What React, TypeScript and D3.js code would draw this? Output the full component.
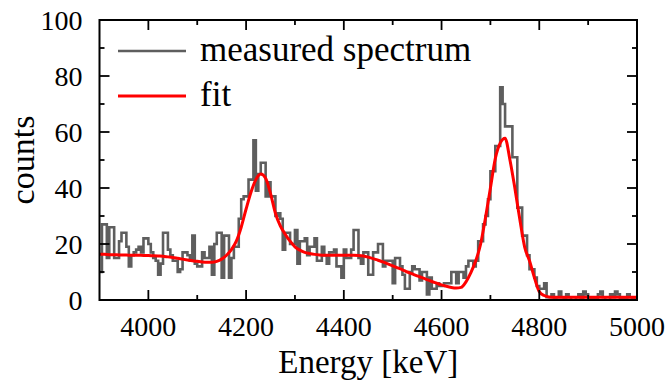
import { useEffect, useRef } from 'react';
import * as d3 from 'd3';

// histogram bins: 5 keV wide, starting at 3900 keV
const BIN_START = 3900;
const BIN_WIDTH = 5;
const counts: number[] = [
  10, 27, 27, 15, 26, 26, 15, 15, 21, 24, 24, 19, 12, 16, 17, 18, 19, 17, 22, 22, // 3900
  20, 17, 15, 14, 9, 13, 24, 24, 18, 16, 14, 14, 10, 11, 17, 17, 16, 14, 23, 13, // 4000
  12, 12, 17, 15, 15, 19, 9, 20, 24, 24, 8, 23, 23, 8, 15, 19, 19, 29, 36, 37, // 4100
  37, 43, 43, 57, 39, 45, 49, 49, 37, 42, 37, 37, 30, 31, 29, 18, 24, 24, 20, 20, // 4200
  25, 13, 21, 21, 22, 16, 19, 19, 22, 14, 14, 19, 16, 13, 17, 17, 18, 12, 12, 8, // 4300
  18, 15, 15, 18, 25, 25, 15, 13, 17, 17, 9, 9, 17, 17, 20, 20, 12, 14, 14, 14, // 4400
  6, 15, 15, 12, 9, 4, 4, 10, 12, 11, 11, 7, 10, 10, 2, 8, 4, 4, 6, 5, // 4500
  5, 6, 6, 6, 10, 10, 6, 10, 10, 8, 12, 14, 14, 12, 14, 21, 21, 27, 30, 36, // 4600
  46, 46, 55, 55, 76, 70, 62, 62, 62, 51, 51, 33, 33, 23, 23, 16, 11, 11, 8, 5, // 4700
  4, 4, 6, 1, 1, 2, 0, 1, 3, 1, 0, 2, 1, 0, 0, 1, 2, 0, 3, 2, // 4800
  1, 0, 1, 0, 2, 3, 1, 0, 0, 2, 1, 3, 2, 0, 1, 0, 2, 1, 0, 1, // 4900
];

// fit curve sampled every 10 keV from 3900 to 5000
const FIT_START = 3900;
const FIT_STEP = 10;
const fitValues: number[] = [
  16.3, 16.3, 16.2, 16.2, 16.1, 16.1, 16.0, 16.0, 16.0, 15.9,
  15.9, 15.8, 15.7, 15.6, 15.4, 15.2, 14.9, 14.6, 14.3, 14.0,
  13.8, 13.6, 13.5, 13.5, 13.8, 14.6, 16.0, 18.0, 21.0, 26.0,
  32.5, 38.5, 43.0, 45.0, 43.5, 38.0, 31.0, 26.5, 23.5, 21.0,
  19.0, 17.8, 17.0, 16.6, 16.3, 16.1, 16.0, 16.0, 16.0, 16.0,
  16.0, 16.0, 16.0, 15.9, 15.7, 15.3, 14.8, 14.2, 13.6, 12.9,
  12.2, 11.5, 10.8, 10.0, 9.3, 8.6, 8.0, 7.3, 6.6, 6.0,
  5.4, 4.9, 4.5, 4.3, 4.5, 6.5, 9.8, 14.0, 20.0, 29.5,
  40.0, 50.5, 56.0, 57.8, 50.0, 40.0, 29.0, 19.0, 14.0, 8.0,
  3.0, 1.6, 1.1, 1.0, 1.0, 1.0, 1.0, 1.0, 1.0, 1.0,
  1.0, 1.0, 1.0, 1.0, 1.0, 1.0, 1.0, 1.0, 1.0, 1.0, 1.0,
];

const xTickLabels = [4000, 4200, 4400, 4600, 4800, 5000];
const xMinorTicks = [4100, 4300, 4500, 4700, 4900];
const yTickLabels = [0, 20, 40, 60, 80, 100];
const yMinorTicks = [10, 30, 50, 70, 90];

const legendItems = [
  { label: 'measured spectrum', color: '#5e5e5e', width: 2.6 },
  { label: 'fit', color: '#ff0000', width: 3 },
];

const WIDTH = 665;
const HEIGHT = 384;
const FONT = '"Liberation Serif", "Times New Roman", serif';

export default function App() {
  const ref = useRef<SVGSVGElement>(null);

  useEffect(() => {
    if (!ref.current) return;
    const margin = { top: 20, right: 28, bottom: 84, left: 99.5 };
    const svg = d3.select(ref.current);
    svg.selectAll('*').remove();

    const x = d3.scaleLinear().domain([3900, 5000]).range([margin.left, WIDTH - margin.right]);
    const y = d3.scaleLinear().domain([0, 100]).range([HEIGHT - margin.bottom, margin.top]);
    const [x0, x1] = x.range();
    const [y0, y1] = y.range();

    svg.append('defs')
      .append('clipPath')
      .attr('id', 'plot-clip')
      .append('rect')
      .attr('x', x0)
      .attr('y', y1)
      .attr('width', x1 - x0)
      .attr('height', y0 - y1);

    // measured spectrum, drawn as steps
    const histPoints: [number, number][] = counts.map((c, i) => [BIN_START + i * BIN_WIDTH, c]);
    histPoints.push([BIN_START + counts.length * BIN_WIDTH, counts[counts.length - 1]]);
    const stepLine = d3.line<[number, number]>()
      .x(d => x(d[0]))
      .y(d => y(d[1]))
      .curve(d3.curveStepAfter);

    svg.append('path')
      .datum(histPoints)
      .attr('clip-path', 'url(#plot-clip)')
      .attr('fill', 'none')
      .attr('stroke', legendItems[0].color)
      .attr('stroke-width', legendItems[0].width)
      .attr('d', stepLine);

    // fit
    const fitPoints: [number, number][] = fitValues.map((v, i) => [FIT_START + i * FIT_STEP, v]);
    const fitLine = d3.line<[number, number]>()
      .x(d => x(d[0]))
      .y(d => y(d[1]))
      .curve(d3.curveMonotoneX);

    svg.append('path')
      .datum(fitPoints)
      .attr('clip-path', 'url(#plot-clip)')
      .attr('fill', 'none')
      .attr('stroke', legendItems[1].color)
      .attr('stroke-width', legendItems[1].width)
      .attr('d', fitLine);

    // frame and inward ticks on all four sides
    const axes = svg.append('g').attr('stroke', '#000').attr('stroke-width', 1.8);
    const tick = (xa: number, ya: number, xb: number, yb: number) =>
      axes.append('line').attr('x1', xa).attr('y1', ya).attr('x2', xb).attr('y2', yb);

    const major = 10;
    const minor = 5;
    xTickLabels.forEach(v => {
      tick(x(v), y0, x(v), y0 - major);
      tick(x(v), y1, x(v), y1 + major);
    });
    xMinorTicks.forEach(v => {
      tick(x(v), y0, x(v), y0 - minor);
      tick(x(v), y1, x(v), y1 + minor);
    });
    yTickLabels.forEach(v => {
      tick(x0, y(v), x0 + major, y(v));
      tick(x1, y(v), x1 - major, y(v));
    });
    yMinorTicks.forEach(v => {
      tick(x0, y(v), x0 + minor, y(v));
      tick(x1, y(v), x1 - minor, y(v));
    });

    axes.append('rect')
      .attr('x', x0)
      .attr('y', y1)
      .attr('width', x1 - x0)
      .attr('height', y0 - y1)
      .attr('fill', 'none')
      .attr('stroke-width', 2);

    // tick labels
    svg.append('g')
      .selectAll('text')
      .data(xTickLabels)
      .join('text')
      .attr('x', d => x(d))
      .attr('y', y0 + 36)
      .attr('text-anchor', 'middle')
      .attr('font-family', FONT)
      .attr('font-size', 28)
      .text(d => d);

    svg.append('g')
      .selectAll('text')
      .data(yTickLabels)
      .join('text')
      .attr('x', x0 - 17)
      .attr('y', d => y(d) + 9.5)
      .attr('text-anchor', 'end')
      .attr('font-family', FONT)
      .attr('font-size', 28)
      .text(d => d);

    // axis titles
    svg.append('text')
      .attr('x', (x0 + x1) / 2)
      .attr('y', 373)
      .attr('text-anchor', 'middle')
      .attr('font-family', FONT)
      .attr('font-size', 33)
      .text('Energy [keV]');

    svg.append('text')
      .attr('transform', `translate(34,${(y0 + y1) / 2}) rotate(-90)`)
      .attr('text-anchor', 'middle')
      .attr('font-family', FONT)
      .attr('font-size', 34)
      .text('counts');

    // legend
    const legend = svg.append('g');
    legendItems.forEach((item, i) => {
      const ly = 51 + i * 45;
      legend.append('line')
        .attr('x1', 118)
        .attr('x2', 186)
        .attr('y1', ly)
        .attr('y2', ly)
        .attr('stroke', item.color)
        .attr('stroke-width', item.width);
      legend.append('text')
        .attr('x', 200)
        .attr('y', ly + 10)
        .attr('font-family', FONT)
        .attr('font-size', 35)
        .text(item.label);
    });
  }, []);

  return (
    <div style={{ position: 'fixed', left: 0, top: 0, width: WIDTH, height: HEIGHT, background: '#fff' }}>
      <svg ref={ref} width={WIDTH} height={HEIGHT} style={{ display: 'block' }} />
    </div>
  );
}
